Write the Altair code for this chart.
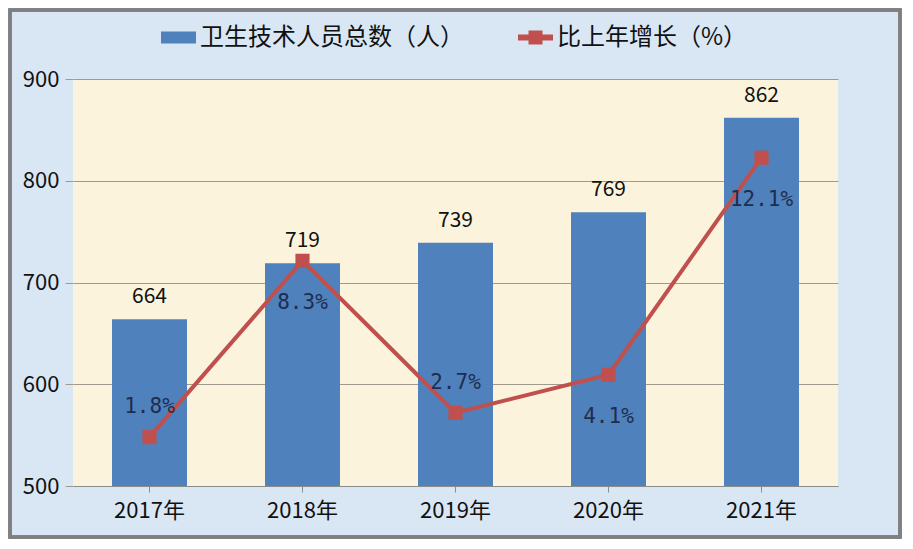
import altair as alt
import pandas as pd

years = ["2017年", "2018年", "2019年", "2020年", "2021年"]
staff = [664, 719, 739, 769, 862]
growth = [1.8, 8.3, 2.7, 4.1, 12.1]
bar_name = "卫生技术人员总数（人）"
line_name = "比上年增长（%）"
labels_above = ["2017年", "2019年"]

df = pd.DataFrame({"year": years, "staff": staff, "growth": growth})
df["growth_label"] = [f"{g:.1f}%" for g in growth]
df["bar_series"] = bar_name
df["line_series"] = line_name

FONT = "Noto Sans CJK SC"
BLUE = "#4F81BD"
RED = "#C0504D"

x = alt.X("year:N", sort=years, title=None,
          scale=alt.Scale(paddingInner=0.51, paddingOuter=0.255),
          axis=alt.Axis(labelFontSize=22, labelFont=FONT, labelColor="#111",
                        labelPadding=8, tickSize=6, domainColor="#8c8c8c",
                        tickColor="#8c8c8c", labelAngle=0))

base = alt.Chart(df).encode(x=x)

bars = base.mark_bar(color=BLUE).encode(
    y=alt.Y("staff:Q", title=None,
            scale=alt.Scale(domain=[500, 900], clamp=True),
            axis=alt.Axis(values=[500, 600, 700, 800, 900], labelFontSize=22,
                          labelFont=FONT, labelColor="#111", grid=True,
                          gridColor="#a09a8c", gridWidth=1.2, tickSize=8,
                          tickColor="#a09a8c", domain=False, labelPadding=6)),
    y2=alt.datum(500),
    fill=alt.Fill("bar_series:N", title=None,
                  scale=alt.Scale(domain=[bar_name], range=[BLUE]),
                  legend=alt.Legend(orient="none", legendX=88, legendY=-59,
                                    symbolType="M-1,-0.34L1,-0.34L1,0.34L-1,0.34Z",
                                    symbolSize=1225, labelFontSize=24,
                                    labelFont=FONT, labelColor="#111",
                                    labelLimit=400, symbolStrokeWidth=0)),
)

bar_text = base.mark_text(dy=-22, fontSize=21, font=FONT, color="#111").encode(
    y=alt.Y("staff:Q", scale=alt.Scale(domain=[500, 900])),
    text="staff:Q",
)

yr = alt.Y("growth:Q", title=None, scale=alt.Scale(domain=[0, 15]),
           axis=alt.Axis(values=[0, 5, 10, 15], labelExpr="datum.value + '%'",
                         orient="right", labelFontSize=22, labelFont=FONT,
                         labelColor="#111", grid=False, domain=False,
                         tickSize=8, tickColor="#a09a8c", labelPadding=8))

line = base.mark_line(strokeWidth=4).encode(
    y=yr,
    stroke=alt.Stroke("line_series:N", title=None,
                      scale=alt.Scale(domain=[line_name], range=[RED]),
                      legend=alt.Legend(orient="none", legendX=445, legendY=-59,
                                        symbolType="M-1,-0.17L1,-0.17L1,0.17L-1,0.17Z M-0.4,-0.4L0.4,-0.4L0.4,0.4L-0.4,0.4Z",
                                        symbolFillColor=RED, symbolStrokeWidth=0,
                                        symbolSize=1225, labelFontSize=24,
                                        labelFont=FONT, labelColor="#111",
                                        labelLimit=400)),
)

points = base.mark_square(size=200, color=RED, opacity=1).encode(
    y=alt.Y("growth:Q", scale=alt.Scale(domain=[0, 15]), axis=None))

text_style = dict(fontSize=21, font="DejaVu Sans Mono", color="#1f2d4e")
line_text_above = base.mark_text(dy=-30, **text_style).encode(
    y=alt.Y("growth:Q", scale=alt.Scale(domain=[0, 15]), axis=None),
    text="growth_label:N",
).transform_filter(alt.FieldOneOfPredicate(field="year", oneOf=labels_above))
line_text_below = base.mark_text(dy=42, **text_style).encode(
    y=alt.Y("growth:Q", scale=alt.Scale(domain=[0, 15]), axis=None),
    text="growth_label:N",
).transform_filter(~alt.FieldOneOfPredicate(field="year", oneOf=labels_above))

# outer frame of the whole chart (relative to the plot origin)
frame = alt.Chart(df).mark_rect(fill=None, stroke="#808080", strokeWidth=3).encode(
    x=alt.value(-63), x2=alt.value(827), y=alt.value(-69), y2=alt.value(458)
)

left = alt.layer(bars, bar_text)
right = alt.layer(line, points, line_text_above, line_text_below)

chart = alt.layer(left, right, frame).resolve_scale(
    y="independent", fill="independent", stroke="independent"
).properties(
    width=765, height=407,
    padding={"left": 65, "top": 71, "right": 64, "bottom": 53},
    autosize=alt.AutoSizeParams(type="none"),
    background="#d9e7f5",
).configure_view(fill="#fcf3dc", stroke=None)

chart.save("out.html", embed_options={"renderer": "svg", "actions": False})
